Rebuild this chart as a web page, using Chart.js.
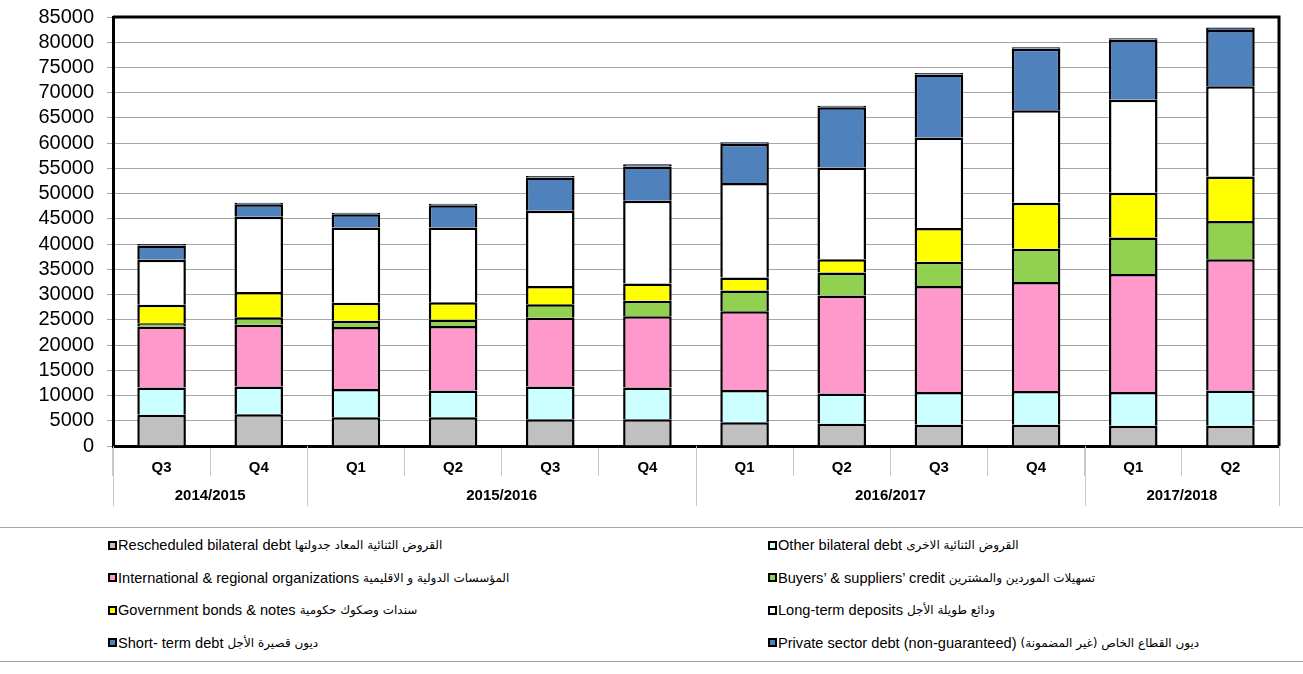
<!DOCTYPE html>
<html>
<head>
<meta charset="utf-8">
<script src="https://cdn.jsdelivr.net/npm/chart.js@4.4.0/dist/chart.umd.min.js"></script>
<style>
  html, body { margin: 0; padding: 0; background: #fff; }
  body { width: 1303px; height: 674px; overflow: hidden; font-family: "Liberation Sans", Arial, sans-serif; }
  #wrap { position: relative; width: 1303px; height: 520px; }
  #legend {
    margin-top: 7px;
    border-top: 1px solid #a6a6a6;
    border-bottom: 1px solid #a6a6a6;
    height: 135px;
    box-sizing: border-box;
    padding: 1px 0 0 108px;
    display: grid;
    grid-template-columns: 660px 500px;
    grid-auto-rows: 32.5px;
    font-size: 14.6px;
    color: #000;
  }
  .item { display: flex; align-items: center; white-space: nowrap; }
  .box { width: 9px; height: 9px; border: 2px solid #000; box-sizing: border-box; margin-right: 1px; }
  .ar { font-family: "DejaVu Sans", sans-serif; font-size: 12px; margin-left: 4px; }
</style>
</head>
<body>
<div id="wrap"><canvas id="debtChart"></canvas></div>
<div id="legend"></div>
<script>
// Quarterly stacked external debt chart

const quarters = ['Q3', 'Q4', 'Q1', 'Q2', 'Q3', 'Q4', 'Q1', 'Q2', 'Q3', 'Q4', 'Q1', 'Q2'];
const yearLabels = ['2014/2015', '2015/2016', '2016/2017', '2017/2018'];
const yearSpans = [2, 4, 4, 2];

const rescheduled = [6200, 6300, 5700, 5700, 5300, 5300, 4700, 4400, 4200, 4200, 4000, 4000];
const otherBilateral = [5400, 5500, 5600, 5300, 6500, 6300, 6400, 6000, 6500, 6700, 6700, 7000];
const intlOrgs = [12100, 12200, 12300, 12800, 13600, 14100, 15600, 19400, 21000, 21600, 23400, 26000];
const buyersCredit = [600, 1500, 1200, 1200, 2700, 3100, 4100, 4600, 4800, 6600, 7200, 7600];
const govBonds = [3700, 5000, 3600, 3500, 3600, 3400, 2600, 2600, 6700, 9100, 8900, 8800];
const longTermDeposits = [8900, 14900, 14900, 14800, 14900, 16400, 18700, 18200, 17900, 18300, 18400, 17900];
const shortTerm = [2850, 2500, 2600, 4400, 6600, 6800, 7800, 11900, 12500, 12200, 11900, 11100];
const privateSector = [250, 300, 300, 300, 300, 400, 300, 300, 300, 300, 300, 500];

const seriesNames = [
    ['Rescheduled bilateral debt', 'القروض الثنائية المعاد جدولتها'],
    ['Other bilateral debt', 'القروض الثنائية الاخرى'],
    ['International & regional organizations', 'المؤسسات الدولية و الاقليمية'],
    ['Buyers\u2019 & suppliers\u2019 credit', 'تسهيلات الموردين والمشترين'],
    ['Government bonds & notes', 'سندات وصكوك حكومية'],
    ['Long-term deposits', 'ودائع طويلة الأجل'],
    ['Short- term debt', 'ديون قصيرة الأجل'],
    ['Private sector debt (non-guaranteed)', 'ديون القطاع الخاص (غير المضمونة)']
];
const seriesValues = [rescheduled, otherBilateral, intlOrgs, buyersCredit, govBonds, longTermDeposits, shortTerm, privateSector];
const seriesColors = ['#c0c0c0', '#ccffff', '#ff99cc', '#92d050', '#ffff00', '#ffffff', '#4f81bd', '#4f81bd'];

const FONT = '"Liberation Sans", Arial, sans-serif';

// Marco del área + eje X jerárquico (años)
const frameAndYears = {
    id: 'frameAndYears',
    afterDraw(chart) {
        const ctx = chart.ctx;
        const area = chart.chartArea;
        const x = chart.scales.x;
        const half = (x.getPixelForValue(1) - x.getPixelForValue(0)) / 2;

        ctx.save();
        ctx.strokeStyle = '#000';
        ctx.lineWidth = 3;
        ctx.beginPath();
        ctx.moveTo(area.left, area.top);
        ctx.lineTo(area.right, area.top);
        ctx.lineTo(area.right, area.bottom);
        ctx.stroke();

        // separadores largos entre años
        ctx.strokeStyle = '#c8c8c8';
        ctx.lineWidth = 1;
        let idx = 0;
        const bounds = [0];
        yearSpans.forEach(s => { idx += s; bounds.push(idx); });
        bounds.forEach(b => {
            const px = Math.round(x.getPixelForValue(b) - half) + 0.5;
            ctx.beginPath();
            ctx.moveTo(px, area.bottom);
            ctx.lineTo(px, area.bottom + 60);
            ctx.stroke();
        });

        ctx.fillStyle = '#000';
        ctx.font = 'bold 15px ' + FONT;
        ctx.textAlign = 'center';
        ctx.textBaseline = 'middle';
        yearLabels.forEach((lbl, i) => {
            const start = x.getPixelForValue(bounds[i]) - half;
            const end = x.getPixelForValue(bounds[i + 1]) - half;
            ctx.fillText(lbl, (start + end) / 2, area.bottom + 50);
        });
        ctx.restore();
    }
};

const datasets = seriesValues.map((vals, i) => ({
    label: seriesNames[i][0] + ' ' + seriesNames[i][1],
    data: vals,
    backgroundColor: seriesColors[i],
    borderColor: '#000',
    borderWidth: 2.5,
    borderSkipped: 'start',
    barPercentage: 0.5,
    categoryPercentage: 1.0
}));

new Chart(document.getElementById('debtChart'), {
    type: 'bar',
    data: { labels: quarters, datasets: datasets },
    plugins: [frameAndYears],
    options: {
        responsive: true,
        maintainAspectRatio: false,
        animation: false,
        layout: { padding: { left: 0, right: 24, top: 17, bottom: 14 } },
        plugins: {
            legend: { display: false },
            tooltip: { enabled: false }
        },
        scales: {
            x: {
                stacked: true,
                grid: {
                    offset: true,
                    drawOnChartArea: false,
                    drawTicks: true,
                    tickLength: 30,
                    color: '#c8c8c8'
                },
                border: { color: '#000', width: 3 },
                ticks: {
                    color: '#000',
                    padding: -17,
                    maxRotation: 0,
                    font: { family: FONT, size: 15, weight: 'bold' }
                },
                afterFit: (s) => { s.height = 60; }
            },
            y: {
                stacked: true,
                min: 0,
                max: 85000,
                grid: { color: '#a6a6a6', lineWidth: 1, tickLength: 6 },
                border: { color: '#000', width: 3 },
                ticks: {
                    stepSize: 5000,
                    autoSkip: false,
                    color: '#000',
                    padding: 13,
                    font: { family: FONT, size: 20 },
                    callback: (v) => String(v)
                },
                afterFit: (s) => {
                    s.width = 113;
                    s.paddingTop = 0;
                    s.paddingBottom = 0;
                }
            }
        }
    }
});

// Leyenda en dos columnas
const legend = document.getElementById('legend');
seriesNames.forEach((n, i) => {
    const item = document.createElement('div');
    item.className = 'item';
    const box = document.createElement('span');
    box.className = 'box';
    box.style.background = seriesColors[i];
    const en = document.createElement('span');
    en.textContent = n[0];
    const ar = document.createElement('span');
    ar.className = 'ar';
    ar.dir = 'rtl';
    ar.textContent = n[1];
    item.appendChild(box);
    item.appendChild(en);
    item.appendChild(ar);
    legend.appendChild(item);
});
</script>
</body>
</html>
